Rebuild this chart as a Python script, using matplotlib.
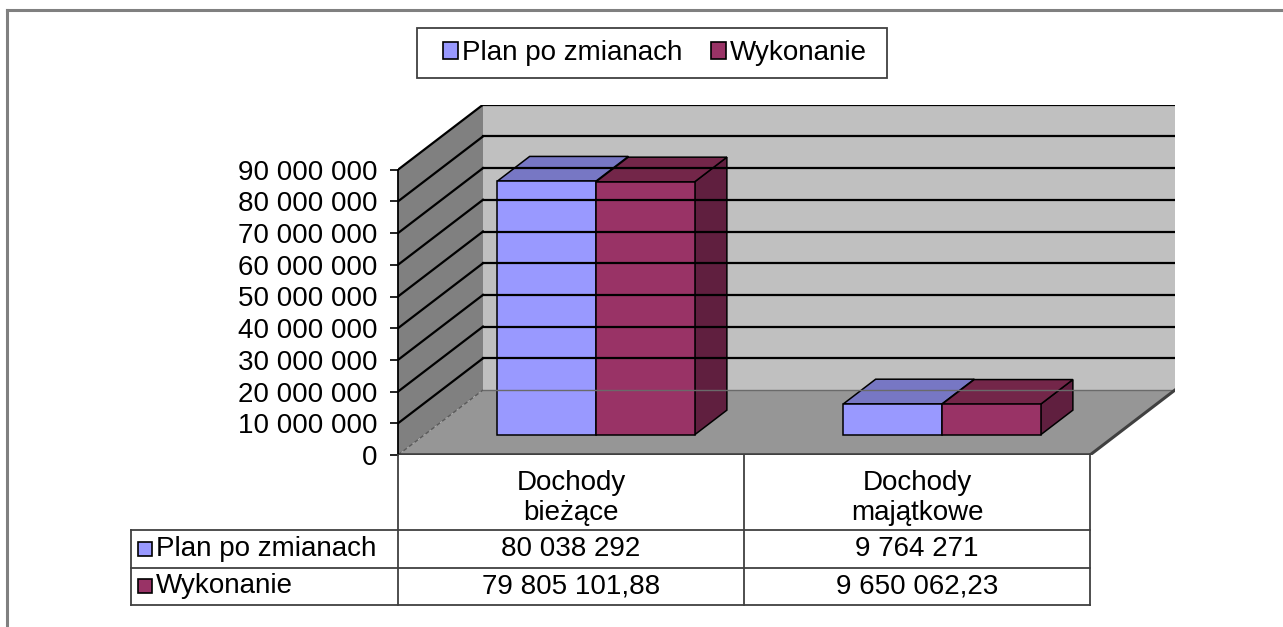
import matplotlib
matplotlib.use("Agg")
import matplotlib.pyplot as plt
from matplotlib.patches import Polygon, Rectangle, Patch
from matplotlib.lines import Line2D

plt.rcParams["font.family"] = ["Liberation Sans", "DejaVu Sans"]

# dane
categories = ["Dochody\nbieżące", "Dochody\nmajątkowe"]
series_names = ["Plan po zmianach", "Wykonanie"]
plan = [80038292, 9764271]
wykonanie = [79805101.88, 9650062.23]
y_ticks = [0, 10000000, 20000000, 30000000, 40000000, 50000000,
           60000000, 70000000, 80000000, 90000000]

# wygląd (Excel 3D)
front_colors = ["#9999ff", "#993366"]
top_colors = ["#7777c4", "#732649"]
side_colors = ["#6666aa", "#601f3f"]
FS = 20

# geometria w pikselach
W, H = 1283, 627
AX_L, AX_B = 398, 455          # początek osi (front, 0)
CAT_PX = 346                   # szerokość kategorii
VAL_PX = 31.7                  # px na 10 000 000
DEP_X, DEP_Y = 85, 65          # przesunięcie głębi
F0, F1 = 0.31, 0.69            # głębokość słupków
BAR_OFF, BAR_W = 0.211, 0.285
LABEL_PX = AX_L - 131
HEAD_PX, ROW_PX = 75, 37.5

YMAX = y_ticks[-1]
DX = DEP_X / CAT_PX
DY = DEP_Y / VAL_PX * 1e7


def fx(px):
    return px / W


def fy(py):
    return 1 - py / H


def pl_fmt(v):
    if float(v).is_integer():
        return f"{int(v):,}".replace(",", " ")
    s = f"{v:,.2f}"
    ip, dp = s.split(".")
    return ip.replace(",", " ") + "," + dp


fig = plt.figure(figsize=(W / 100, H / 100), dpi=100)

ax_w = 2 * CAT_PX + DEP_X
ax_h = YMAX / 1e7 * VAL_PX + DEP_Y
ax = fig.add_axes([fx(AX_L), fy(AX_B), ax_w / W, ax_h / H])
ax.set_xlim(0, 2 + DX)
ax.set_ylim(0, YMAX + DY)
ax.patch.set_visible(False)

# ściany i podłoga
ax.add_patch(Polygon([(0, 0), (0, YMAX), (DX, YMAX + DY), (DX, DY)],
                     closed=True, fc="#808080", ec="none"))
ax.add_patch(Rectangle((DX, DY), 2, YMAX, fc="#c0c0c0", ec="none"))
ax.add_patch(Polygon([(0, 0), (2, 0), (2 + DX, DY), (DX, DY)],
                     closed=True, fc="#969696", ec="none"))

for v in y_ticks:
    if v == 0:
        ax.plot([0, DX], [v, v + DY], color="#5a5a5a", lw=1.0, ls=(0, (3, 2)))
        ax.plot([DX, 2 + DX], [v + DY, v + DY], color="#6a6a6a", lw=1.0)
    else:
        ax.plot([0, DX], [v, v + DY], color="black", lw=1.6)
        ax.plot([DX, 2 + DX], [v + DY, v + DY], color="black", lw=1.6)
ax.plot([0, 2], [0, 0], color="#404040", lw=2.6, solid_capstyle="butt")
ax.plot([2, 2 + DX], [0, DY], color="#404040", lw=2.2)

# słupki 3D
for i in range(len(categories)):
    for s, vals in enumerate([plan, wykonanie]):
        v = vals[i]
        x0 = i + BAR_OFF + s * BAR_W
        x1 = x0 + BAR_W
        ax0, ay0 = F0 * DX, F0 * DY
        ax1, ay1 = F1 * DX, F1 * DY
        side = [(x1 + ax0, ay0), (x1 + ax1, ay1), (x1 + ax1, v + ay1), (x1 + ax0, v + ay0)]
        top = [(x0 + ax0, v + ay0), (x1 + ax0, v + ay0), (x1 + ax1, v + ay1), (x0 + ax1, v + ay1)]
        front = [(x0 + ax0, ay0), (x1 + ax0, ay0), (x1 + ax0, v + ay0), (x0 + ax0, v + ay0)]
        for pts, c in [(side, side_colors[s]), (top, top_colors[s]), (front, front_colors[s])]:
            ax.add_patch(Polygon(pts, closed=True, fc=c, ec="black", lw=1.1))

# oś Y
for sp in ["top", "right", "bottom"]:
    ax.spines[sp].set_visible(False)
ax.spines["left"].set_bounds(0, YMAX)
ax.spines["left"].set_linewidth(1.3)
ax.set_xticks([])
ax.set_yticks(y_ticks)
ax.set_yticklabels([pl_fmt(v) for v in y_ticks])
ax.tick_params(axis="y", direction="out", length=6, width=1.2, pad=9, labelsize=FS)

# tabela danych
tax = fig.add_axes([fx(131), fy(AX_B + HEAD_PX + 2 * ROW_PX),
                    (LABEL_PX + 2 * CAT_PX) / W, (HEAD_PX + 2 * ROW_PX) / H])
lab_w = LABEL_PX / CAT_PX
tot_h = HEAD_PX + 2 * ROW_PX
tax.set_xlim(-lab_w, 2)
tax.set_ylim(tot_h, 0)
tax.axis("off")
lc, lw = "#404040", 1.3
for yy in [HEAD_PX, HEAD_PX + ROW_PX, tot_h]:
    tax.plot([-lab_w, 2], [yy, yy], color=lc, lw=lw, clip_on=False)
tax.plot([-lab_w, -lab_w], [HEAD_PX, tot_h], color=lc, lw=lw, clip_on=False)
for xx in range(len(categories) + 1):
    tax.plot([xx, xx], [0, tot_h], color=lc, lw=lw, clip_on=False)

for i, cat in enumerate(categories):
    tax.text(i + 0.5, HEAD_PX * 0.57, cat, ha="center", va="center",
             fontsize=FS, linespacing=1.2)
    for r, vals in enumerate([plan, wykonanie]):
        tax.text(i + 0.5, HEAD_PX + ROW_PX * (r + 0.5), pl_fmt(vals[i]),
                 ha="center", va="center", fontsize=FS)

for r, name in enumerate(series_names):
    yy = HEAD_PX + ROW_PX * (r + 0.5)
    tax.plot([-lab_w + 14 / CAT_PX], [yy], marker="s", ms=9.5,
             mfc=front_colors[r], mec="black", mew=1.2, clip_on=False)
    tax.text(-lab_w + 25 / CAT_PX, yy, name, ha="left", va="center", fontsize=FS)

# legenda
fig.add_artist(Rectangle((fx(417), fy(78)), 470 / W, 50 / H,
                         transform=fig.transFigure, fc="white", ec="#404040", lw=1.3))
handles = [Patch(fc=c, ec="black", lw=1.2) for c in front_colors]
fig.legend(handles, series_names, loc="center", bbox_to_anchor=(fx(655), fy(53)),
           ncol=2, frameon=False, fontsize=FS, handlelength=0.55, handleheight=0.55,
           handletextpad=0.15, columnspacing=1.0)

# ramka wykresu
fig.add_artist(Line2D([fx(7), fx(7)], [fy(10), 0], color="#808080", lw=2.2))
fig.add_artist(Line2D([fx(7), 1], [fy(10), fy(10)], color="#808080", lw=2.2))

fig.savefig("out.png", dpi=100)
